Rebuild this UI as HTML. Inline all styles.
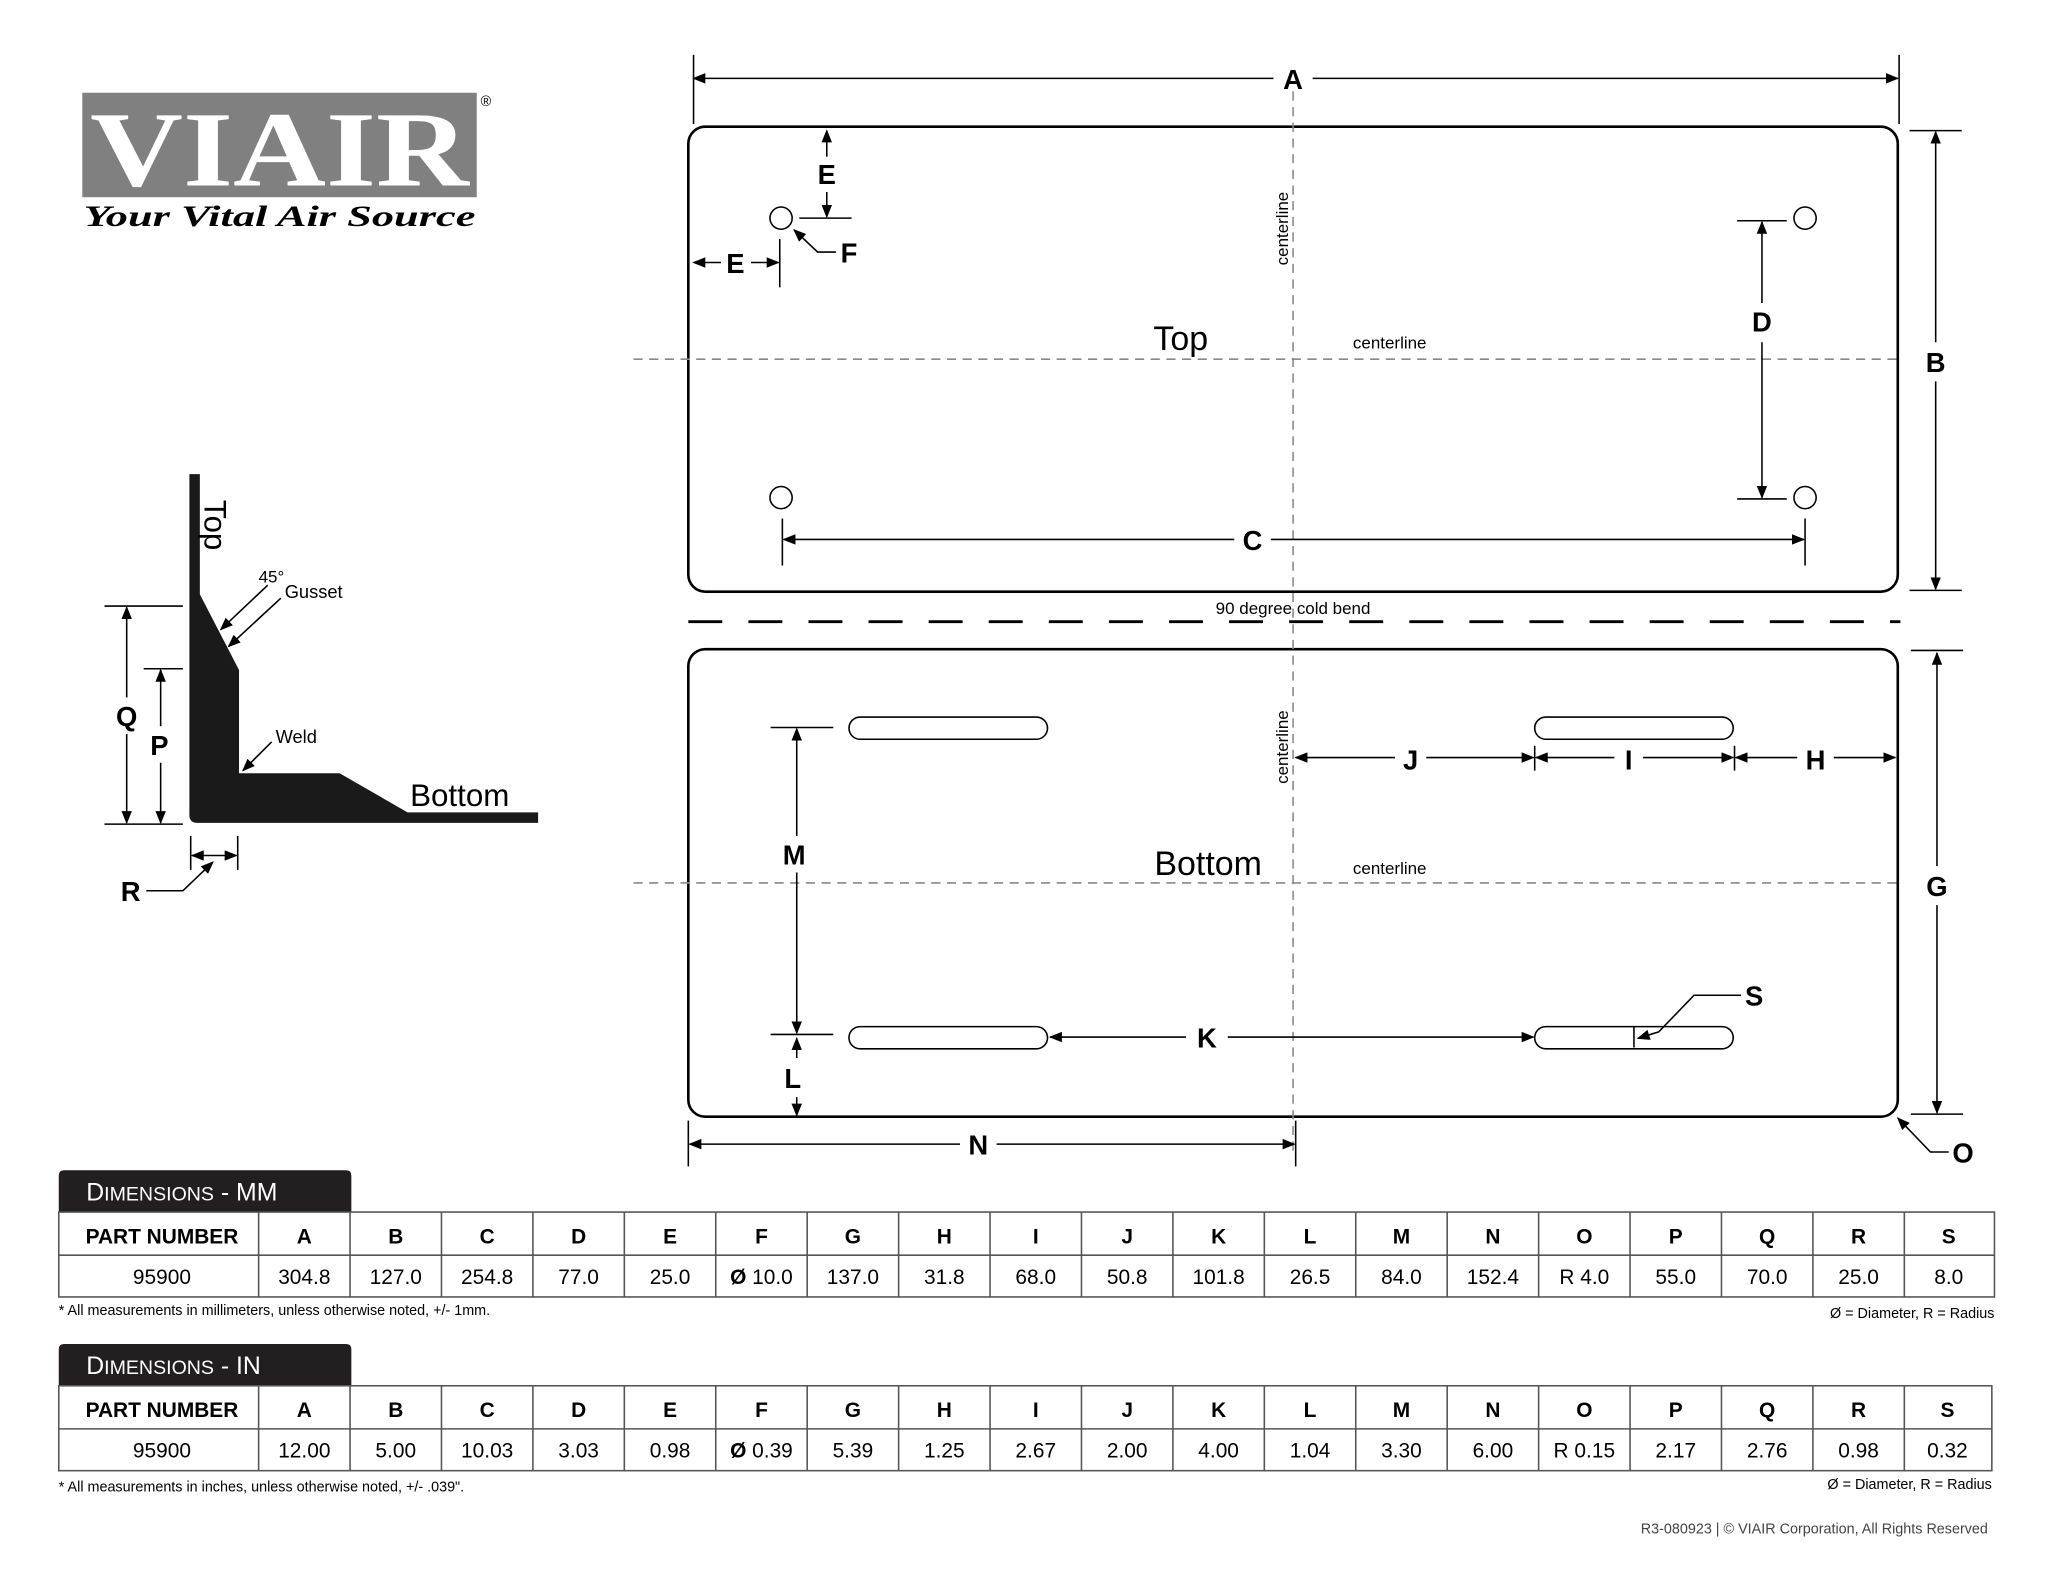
<!DOCTYPE html>
<html><head><meta charset="utf-8"><style>
html,body{margin:0;padding:0;background:#fff}
svg{display:block}
text{font-family:"Liberation Sans",Arial,sans-serif}
</style></head><body>
<svg width="2048" height="1583" viewBox="0 0 1568 1212" preserveAspectRatio="none" xmlns="http://www.w3.org/2000/svg">
<defs>
<marker id="ar" markerWidth="10" markerHeight="8" refX="9" refY="4" orient="auto-start-reverse" markerUnits="userSpaceOnUse">
<path d="M0,0 L10,4 L0,8 z" fill="#000"/></marker>
</defs>
<rect width="1568" height="1212" fill="#fff"/>
<!-- Logo -->
<rect x="63" y="71" width="302" height="80" fill="#808080"/>
<text x="214" y="142" text-anchor="middle" font-weight="bold" font-size="82" fill="#fff" textLength="290" lengthAdjust="spacingAndGlyphs" style="font-family:'Liberation Serif',serif">VIAIR</text>
<text x="372" y="81" font-size="11" text-anchor="middle">®</text>
<text x="214" y="173" text-anchor="middle" font-weight="bold" font-style="italic" font-size="23" textLength="300" lengthAdjust="spacingAndGlyphs" style="font-family:'Liberation Serif',serif">Your Vital Air Source</text>

<g stroke="#000" fill="none" stroke-width="1.3">
<rect x="527" y="97" width="926" height="356" rx="13" stroke-width="2"/>
<rect x="527" y="497" width="926" height="358" rx="13" stroke-width="2"/>
</g>
<g stroke="#888" stroke-width="1.2" stroke-dasharray="7,5" fill="none">
<line x1="990" y1="70" x2="990" y2="882"/>
<line x1="485" y1="275" x2="1455" y2="275"/>
<line x1="485" y1="676" x2="1455" y2="676"/>
</g>
<line x1="527" y1="476" x2="1455" y2="476" stroke="#000" stroke-width="2.2" stroke-dasharray="26,20"/>

<g stroke="#000" fill="none" stroke-width="1.2">
<line x1="531" y1="42" x2="531" y2="95"/><line x1="1454" y1="42" x2="1454" y2="95"/>
<line x1="531" y1="60" x2="975" y2="60" marker-start="url(#ar)"/>
<line x1="1005" y1="60" x2="1453" y2="60" marker-end="url(#ar)"/>
<line x1="633" y1="100" x2="633" y2="120" marker-start="url(#ar)"/>
<line x1="633" y1="147" x2="633" y2="166" marker-end="url(#ar)"/>
<line x1="612" y1="167" x2="652" y2="167"/>
<circle cx="598" cy="167" r="8.5"/><circle cx="1382" cy="167" r="8.5"/>
<circle cx="598" cy="381" r="8.5"/><circle cx="1382" cy="381" r="8.5"/>
<polyline points="640,193 626,193 608,176" marker-end="url(#ar)"/>
<line x1="597" y1="183" x2="597" y2="220"/>
<line x1="531" y1="201" x2="552" y2="201" marker-start="url(#ar)"/>
<line x1="575" y1="201" x2="596" y2="201" marker-end="url(#ar)"/>
<line x1="1330" y1="169" x2="1368" y2="169"/><line x1="1330" y1="382" x2="1368" y2="382"/>
<line x1="1349" y1="170" x2="1349" y2="232" marker-start="url(#ar)"/>
<line x1="1349" y1="262" x2="1349" y2="381" marker-end="url(#ar)"/>
<line x1="599" y1="397" x2="599" y2="433"/><line x1="1382" y1="397" x2="1382" y2="433"/>
<line x1="600" y1="413" x2="945" y2="413" marker-start="url(#ar)"/>
<line x1="973" y1="413" x2="1381" y2="413" marker-end="url(#ar)"/>
<line x1="1462" y1="100" x2="1502" y2="100"/><line x1="1462" y1="452" x2="1502" y2="452"/>
<line x1="1482" y1="101" x2="1482" y2="262" marker-start="url(#ar)"/>
<line x1="1482" y1="292" x2="1482" y2="451" marker-end="url(#ar)"/>

<rect x="650" y="549" width="152" height="17" rx="8.5"/>
<rect x="1175" y="549" width="152" height="17" rx="8.5"/>
<rect x="650" y="786" width="152" height="17" rx="8.5"/>
<rect x="1175" y="786" width="152" height="17" rx="8.5"/>
<line x1="1175" y1="571" x2="1175" y2="590"/><line x1="1328" y1="571" x2="1328" y2="590"/>
<line x1="992" y1="580" x2="1068" y2="580" marker-start="url(#ar)"/>
<line x1="1092" y1="580" x2="1174" y2="580" marker-end="url(#ar)"/>
<line x1="1176" y1="580" x2="1236" y2="580" marker-start="url(#ar)"/>
<line x1="1258" y1="580" x2="1327" y2="580" marker-end="url(#ar)"/>
<line x1="1329" y1="580" x2="1376" y2="580" marker-start="url(#ar)"/>
<line x1="1404" y1="580" x2="1451" y2="580" marker-end="url(#ar)"/>
<line x1="590" y1="557" x2="638" y2="557"/><line x1="590" y1="792" x2="638" y2="792"/>
<line x1="610" y1="558" x2="610" y2="640" marker-start="url(#ar)"/>
<line x1="610" y1="668" x2="610" y2="791" marker-end="url(#ar)"/>
<line x1="610" y1="795" x2="610" y2="810" marker-start="url(#ar)"/>
<line x1="610" y1="840" x2="610" y2="854" marker-end="url(#ar)"/>
<line x1="804" y1="794" x2="908" y2="794" marker-start="url(#ar)"/>
<line x1="940" y1="794" x2="1174" y2="794" marker-end="url(#ar)"/>
<line x1="1251" y1="786" x2="1251" y2="802"/>
<polyline points="1333,762 1297,762 1270,790 1254,795" marker-end="url(#ar)"/>
<line x1="1463" y1="498" x2="1503" y2="498"/><line x1="1463" y1="853" x2="1503" y2="853"/>
<line x1="1483" y1="500" x2="1483" y2="663" marker-start="url(#ar)"/>
<line x1="1483" y1="693" x2="1483" y2="852" marker-end="url(#ar)"/>
<line x1="527" y1="858" x2="527" y2="893"/><line x1="992" y1="858" x2="992" y2="893"/>
<line x1="528" y1="876" x2="735" y2="876" marker-start="url(#ar)"/>
<line x1="763" y1="876" x2="991" y2="876" marker-end="url(#ar)"/>
<polyline points="1492,882 1478,882 1453,856" marker-end="url(#ar)"/>

<line x1="80" y1="464" x2="140" y2="464"/><line x1="80" y1="631" x2="140" y2="631"/>
<line x1="110" y1="512" x2="140" y2="512"/>
<line x1="97" y1="465" x2="97" y2="534" marker-start="url(#ar)"/>
<line x1="97" y1="562" x2="97" y2="630" marker-end="url(#ar)"/>
<line x1="123" y1="513" x2="123" y2="556" marker-start="url(#ar)"/>
<line x1="123" y1="584" x2="123" y2="630" marker-end="url(#ar)"/>
<line x1="146" y1="640" x2="146" y2="666"/><line x1="182" y1="640" x2="182" y2="666"/>
<line x1="147" y1="655" x2="181" y2="655" marker-start="url(#ar)" marker-end="url(#ar)"/>
<polyline points="112,682 140,682 163,660" marker-end="url(#ar)"/>
<line x1="205" y1="448" x2="169" y2="482" marker-end="url(#ar)"/>
<line x1="215" y1="458" x2="175" y2="495" marker-end="url(#ar)"/>
<line x1="208" y1="568" x2="186" y2="590" marker-end="url(#ar)"/>
</g>
<path d="M145,363 L153,363 L153,455 L183,513 L183,592 L260,592 L312,622 L412,622 L412,630 L151,630 Q145,630 145,624 Z" fill="#1a1a1a"/>
<text transform="translate(163,402) rotate(90)" font-size="24" text-anchor="middle" dominant-baseline="middle">Top</text>
<text x="198" y="446" font-size="13">45°</text>
<text x="218" y="458" font-size="14">Gusset</text>
<text x="211" y="569" font-size="14">Weld</text>
<text x="314" y="617" font-size="24">Bottom</text>

<g font-weight="bold" font-size="21" text-anchor="middle">
<text x="990" y="68">A</text>
<text x="633" y="141">E</text>
<text x="650" y="201">F</text>
<text x="563" y="209">E</text>
<text x="1349" y="254">D</text>
<text x="959" y="421">C</text>
<text x="1482" y="285">B</text>
<text x="1080" y="589">J</text>
<text x="1247" y="589">I</text>
<text x="1390" y="589">H</text>
<text x="608" y="662">M</text>
<text x="607" y="833">L</text>
<text x="924" y="802">K</text>
<text x="1343" y="770">S</text>
<text x="1483" y="686">G</text>
<text x="749" y="884">N</text>
<text x="1503" y="890">O</text>
<text x="97" y="556">Q</text>
<text x="122" y="578">P</text>
<text x="100" y="690">R</text>
</g>
<text x="904" y="268" font-size="26" text-anchor="middle">Top</text>
<text x="925" y="670" font-size="26" text-anchor="middle">Bottom</text>
<text x="1064" y="267" font-size="13" text-anchor="middle">centerline</text>
<text x="1064" y="669" font-size="13" text-anchor="middle">centerline</text>
<text transform="translate(986,175) rotate(-90)" font-size="13" text-anchor="middle">centerline</text>
<text transform="translate(986,572) rotate(-90)" font-size="13" text-anchor="middle">centerline</text>
<text x="990" y="470" font-size="13" text-anchor="middle">90 degree cold bend</text>

<path d="M45,928 L45,900 Q45,896 49,896 L265,896 Q269,896 269,900 L269,928 Z" fill="#231f20"/>
<text x="66" y="919" fill="#fff" font-size="19">D<tspan font-size="15">IMENSIONS</tspan> - MM</text>
<path d="M45,1061 L45,1033 Q45,1029 49,1029 L265,1029 Q269,1029 269,1033 L269,1061 Z" fill="#231f20"/>
<text x="66" y="1052" fill="#fff" font-size="19">D<tspan font-size="15">IMENSIONS</tspan> - IN</text>
<g stroke="#555" stroke-width="1.2" fill="none">
<rect x="45" y="928" width="1482" height="65"/><line x1="45" y1="961" x2="1527" y2="961"/>
<rect x="45" y="1061" width="1480" height="65"/><line x1="45" y1="1094" x2="1525" y2="1094"/>
</g>
<text x="45" y="1007" font-size="11">* All measurements in millimeters, unless otherwise noted, +/- 1mm.</text>
<text x="1527" y="1009" font-size="11" text-anchor="end">Ø = Diameter, R = Radius</text>
<text x="45" y="1142" font-size="11">* All measurements in inches, unless otherwise noted, +/- .039".</text>
<text x="1525" y="1140" font-size="11" text-anchor="end">Ø = Diameter, R = Radius</text>
<text x="1522" y="1174" font-size="11" fill="#444" text-anchor="end">R3-080923  |  © VIAIR Corporation, All Rights Reserved</text>

<g font-size="16" text-anchor="middle">
<text x="124" y="952" font-weight="bold">PART NUMBER</text>
<text x="124" y="983">95900</text>
<text x="124" y="1085" font-weight="bold">PART NUMBER</text>
<text x="124" y="1116">95900</text>
</g>
<g stroke="#555" stroke-width="1.2">
<line x1="198" y1="928" x2="198" y2="993"/><line x1="268" y1="928" x2="268" y2="993"/><line x1="338" y1="928" x2="338" y2="993"/><line x1="408" y1="928" x2="408" y2="993"/><line x1="478" y1="928" x2="478" y2="993"/><line x1="548" y1="928" x2="548" y2="993"/><line x1="618" y1="928" x2="618" y2="993"/><line x1="688" y1="928" x2="688" y2="993"/><line x1="758" y1="928" x2="758" y2="993"/><line x1="828" y1="928" x2="828" y2="993"/><line x1="898" y1="928" x2="898" y2="993"/><line x1="968" y1="928" x2="968" y2="993"/><line x1="1038" y1="928" x2="1038" y2="993"/><line x1="1108" y1="928" x2="1108" y2="993"/><line x1="1178" y1="928" x2="1178" y2="993"/><line x1="1248" y1="928" x2="1248" y2="993"/><line x1="1318" y1="928" x2="1318" y2="993"/><line x1="1388" y1="928" x2="1388" y2="993"/><line x1="1458" y1="928" x2="1458" y2="993"/>
<line x1="198" y1="1061" x2="198" y2="1126"/><line x1="268" y1="1061" x2="268" y2="1126"/><line x1="338" y1="1061" x2="338" y2="1126"/><line x1="408" y1="1061" x2="408" y2="1126"/><line x1="478" y1="1061" x2="478" y2="1126"/><line x1="548" y1="1061" x2="548" y2="1126"/><line x1="618" y1="1061" x2="618" y2="1126"/><line x1="688" y1="1061" x2="688" y2="1126"/><line x1="758" y1="1061" x2="758" y2="1126"/><line x1="828" y1="1061" x2="828" y2="1126"/><line x1="898" y1="1061" x2="898" y2="1126"/><line x1="968" y1="1061" x2="968" y2="1126"/><line x1="1038" y1="1061" x2="1038" y2="1126"/><line x1="1108" y1="1061" x2="1108" y2="1126"/><line x1="1178" y1="1061" x2="1178" y2="1126"/><line x1="1248" y1="1061" x2="1248" y2="1126"/><line x1="1318" y1="1061" x2="1318" y2="1126"/><line x1="1388" y1="1061" x2="1388" y2="1126"/><line x1="1458" y1="1061" x2="1458" y2="1126"/>
</g>
<g font-size="16" text-anchor="middle">
<g font-weight="bold">
<text x="233" y="952">A</text><text x="303" y="952">B</text><text x="373" y="952">C</text><text x="443" y="952">D</text><text x="513" y="952">E</text><text x="583" y="952">F</text><text x="653" y="952">G</text><text x="723" y="952">H</text><text x="793" y="952">I</text><text x="863" y="952">J</text><text x="933" y="952">K</text><text x="1003" y="952">L</text><text x="1073" y="952">M</text><text x="1143" y="952">N</text><text x="1213" y="952">O</text><text x="1283" y="952">P</text><text x="1353" y="952">Q</text><text x="1423" y="952">R</text><text x="1492" y="952">S</text>
<text x="233" y="1085">A</text><text x="303" y="1085">B</text><text x="373" y="1085">C</text><text x="443" y="1085">D</text><text x="513" y="1085">E</text><text x="583" y="1085">F</text><text x="653" y="1085">G</text><text x="723" y="1085">H</text><text x="793" y="1085">I</text><text x="863" y="1085">J</text><text x="933" y="1085">K</text><text x="1003" y="1085">L</text><text x="1073" y="1085">M</text><text x="1143" y="1085">N</text><text x="1213" y="1085">O</text><text x="1283" y="1085">P</text><text x="1353" y="1085">Q</text><text x="1423" y="1085">R</text><text x="1491" y="1085">S</text>
</g>
<text x="233" y="983">304.8</text><text x="303" y="983">127.0</text><text x="373" y="983">254.8</text><text x="443" y="983">77.0</text><text x="513" y="983">25.0</text><text x="583" y="983"><tspan font-weight="bold">Ø</tspan> 10.0</text><text x="653" y="983">137.0</text><text x="723" y="983">31.8</text><text x="793" y="983">68.0</text><text x="863" y="983">50.8</text><text x="933" y="983">101.8</text><text x="1003" y="983">26.5</text><text x="1073" y="983">84.0</text><text x="1143" y="983">152.4</text><text x="1213" y="983">R 4.0</text><text x="1283" y="983">55.0</text><text x="1353" y="983">70.0</text><text x="1423" y="983">25.0</text><text x="1492" y="983">8.0</text>
<text x="233" y="1116">12.00</text><text x="303" y="1116">5.00</text><text x="373" y="1116">10.03</text><text x="443" y="1116">3.03</text><text x="513" y="1116">0.98</text><text x="583" y="1116"><tspan font-weight="bold">Ø</tspan> 0.39</text><text x="653" y="1116">5.39</text><text x="723" y="1116">1.25</text><text x="793" y="1116">2.67</text><text x="863" y="1116">2.00</text><text x="933" y="1116">4.00</text><text x="1003" y="1116">1.04</text><text x="1073" y="1116">3.30</text><text x="1143" y="1116">6.00</text><text x="1213" y="1116">R 0.15</text><text x="1283" y="1116">2.17</text><text x="1353" y="1116">2.76</text><text x="1423" y="1116">0.98</text><text x="1491" y="1116">0.32</text>
</g>
</svg>
</body></html>
